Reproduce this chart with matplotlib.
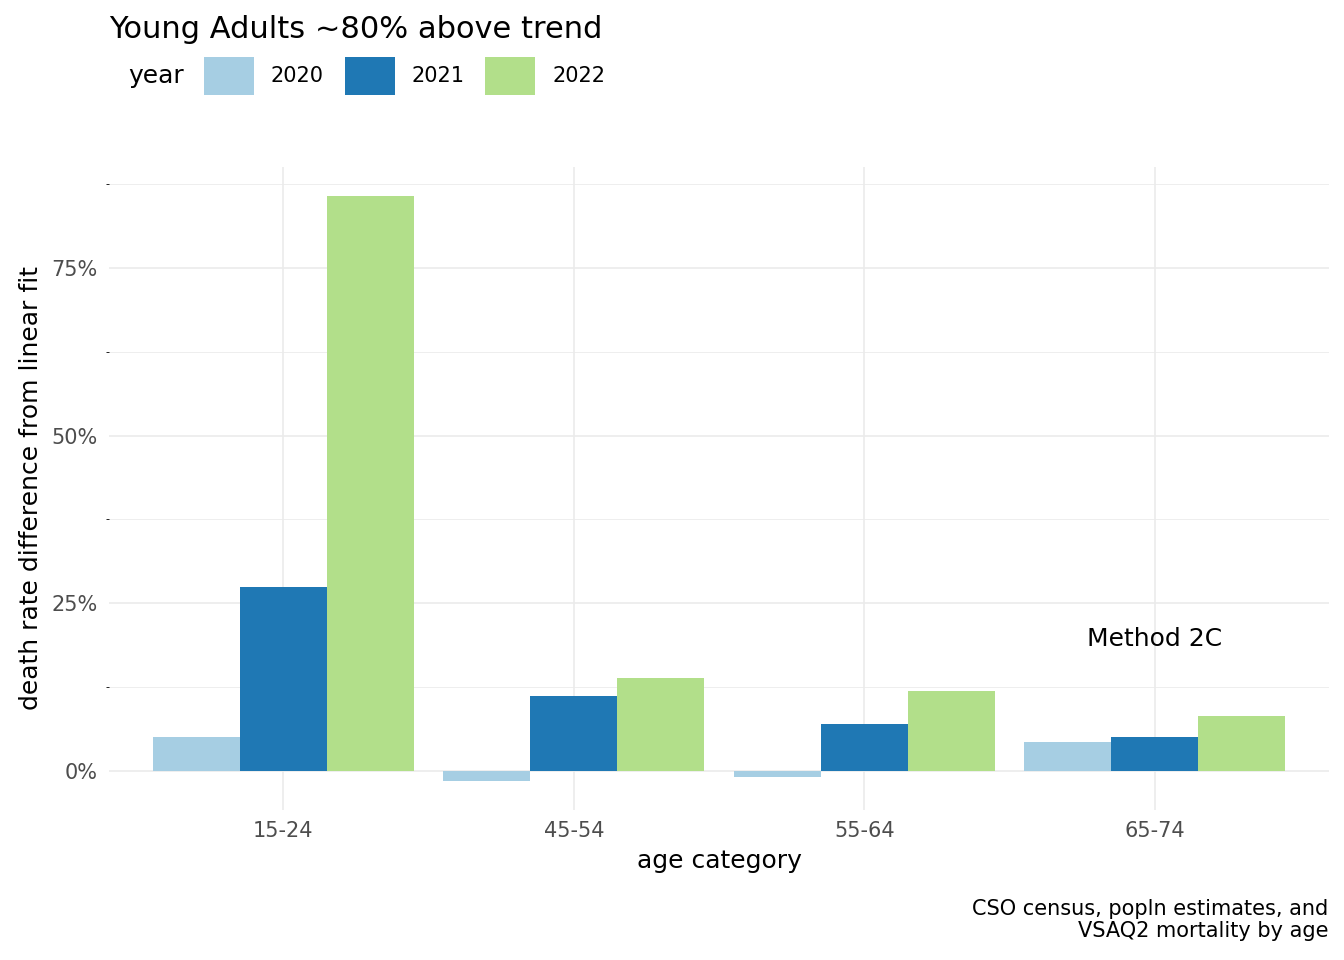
import matplotlib.pyplot as plt
import numpy as np

ages = ['15-24', '45-54', '55-64', '65-74']
years = ['2020', '2021', '2022']
v2020 = [5.1, -1.5, -1.0, 4.3]
v2021 = [27.4, 11.2, 7.0, 5.1]
v2022 = [85.7, 13.9, 11.9, 8.1]
colors = ['#a6cee3', '#1f78b4', '#b2df8a']

fig = plt.figure(figsize=(13.44, 9.6), dpi=100)
ax = fig.add_axes([109/1344, 1-810/960, 1220/1344, 643/960])

x = np.arange(1, len(ages) + 1)
w = 0.3
for i, (vals, yr) in enumerate(zip([v2020, v2021, v2022], years)):
    ax.bar(x + (i - 1) * w, vals, width=w, color=colors[i], label=yr, zorder=2)

ax.set_xlim(0.4, 4.6)
ax.set_ylim(-5.86, 90.1)
ax.set_yticks([0, 25, 50, 75])
ax.set_yticklabels(['0%', '25%', '50%', '75%'])
ax.set_yticks([12.5, 37.5, 62.5, 87.5], minor=True)
ax.set_xticks(x)
ax.set_xticklabels(ages)
ax.grid(True, which='major', color='#ebebeb', linewidth=1.2, zorder=0)
ax.grid(True, which='minor', axis='y', color='#ebebeb', linewidth=0.6, zorder=0)
for s in ax.spines.values():
    s.set_visible(False)
ax.tick_params(length=0, labelsize=15, colors='#4d4d4d', pad=8)
ax.set_xlabel('age category', fontsize=18, labelpad=6)
ax.set_ylabel('death rate difference from linear fit', fontsize=18, labelpad=6)

ax.text(4, 19.7, 'Method 2C', fontsize=18, ha='center', va='center')

fig.text(109/1344, 1-30/960, 'Young Adults ~80% above trend', fontsize=22, va='center')
ax.legend(title='year', loc='upper left', bbox_to_anchor=(0.0, 1.2), ncol=3,
          frameon=False, fontsize=15, title_fontsize=18, handlelength=2.4,
          handleheight=2.4, columnspacing=1.0, alignment='left')
leg = ax.get_legend()
leg._legend_box.align = 'left'
# put title inline
from matplotlib.offsetbox import HPacker
lb = leg._legend_box
lb.__class__ = HPacker
lb.sep = 15
lb.align = 'center'

fig.text(1328/1344, 1-920/960, 'CSO census, popln estimates, and\nVSAQ2 mortality by age',
         fontsize=15, ha='right', va='center', linespacing=1.1)

fig.savefig('out.png', dpi=100, facecolor='white')
